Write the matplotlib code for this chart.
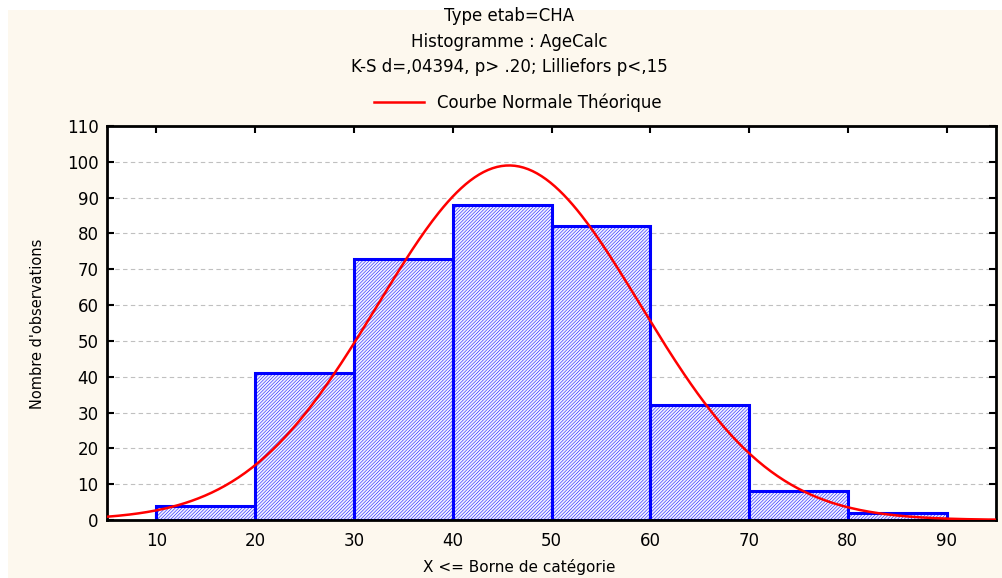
import matplotlib.pyplot as plt
import matplotlib.patches as mpatches
import numpy as np

# histogram of AgeCalc (upper bin limits and counts)
bin_edges = [10, 20, 30, 40, 50, 60, 70, 80, 90]
counts = [4, 41, 73, 88, 82, 32, 8, 2]
# fitted normal parameters
mean_age = 45.7
sd_age = 13.3

title_lines = ["Type etab=CHA", "Histogramme : AgeCalc",
               "K-S d=,04394, p> .20; Lilliefors p<,15"]
legend_label = "Courbe Normale Théorique"
xlabel = "X <= Borne de catégorie"
ylabel = "Nombre d'observations"

plt.rcParams['font.family'] = ['DejaVu Sans']
plt.rcParams['hatch.color'] = '#2a2aff'
plt.rcParams['hatch.linewidth'] = 0.35

W, H = 1002, 578
fig = plt.figure(figsize=(W / 100, H / 100), dpi=100)
fig.patch.set_facecolor('white')
fig.patches.append(mpatches.Rectangle((8 / W, 0), 1, 1 - 10 / H,
                                      transform=fig.transFigure,
                                      facecolor='#fdf8ee', edgecolor='none', zorder=-10))

ax = fig.add_axes([107 / W, 1 - 520 / H, (996 - 107) / W, (520 - 126) / H])
ax.set_facecolor('white')

width = bin_edges[1] - bin_edges[0]
lefts = np.array(bin_edges[:-1])
ax.bar(lefts, counts, width=width, align='edge', facecolor='#f0f0ff',
       edgecolor='#0000ff', linewidth=2.2, hatch='//////////', zorder=2)

x = np.linspace(5, 95, 400)
n = sum(counts)
curve = n * width / (sd_age * np.sqrt(2 * np.pi)) * np.exp(-0.5 * ((x - mean_age) / sd_age) ** 2)
line, = ax.plot(x, curve, color='#ff0000', linewidth=1.8, zorder=3)

ax.set_xlim(5, 95)
ax.set_ylim(0, 110)
ax.set_xticks(bin_edges)
ax.set_yticks(range(0, 111, 10))
ax.yaxis.grid(True, linestyle=(0, (4, 3)), color='#c0c0c0', linewidth=0.8, zorder=0)
ax.set_axisbelow(True)
ax.tick_params(direction='in', length=5, width=1.5, top=True, right=True,
               labelsize=12, colors='black')
ax.tick_params(axis='y', pad=6)
ax.tick_params(axis='x', pad=9)
for s in ax.spines.values():
    s.set_linewidth(2)

fig.text(519 / W, 1 - 567 / H, xlabel, ha='center', va='center', fontsize=11)
fig.text(38 / W, 1 - 324 / H, ylabel, ha='center', va='center', rotation=90, fontsize=10.5)

for y_px, txt in zip([16, 42, 67], title_lines):
    fig.text(509 / W, 1 - y_px / H, txt, ha='center', va='center', fontsize=12)
fig.legend([line], [legend_label], loc='center', bbox_to_anchor=(518 / W, 1 - 103 / H),
           frameon=False, fontsize=12, handlelength=3.0, borderpad=0, handletextpad=0.8)

fig.savefig('out.png', dpi=100, facecolor=fig.get_facecolor())
